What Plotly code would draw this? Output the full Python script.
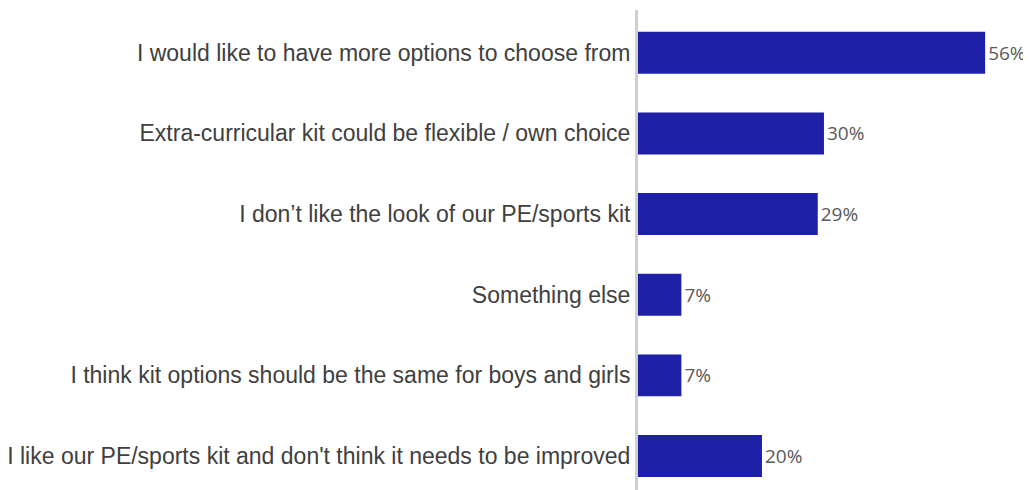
import plotly.graph_objects as go

categories = [
    "I would like to have more options to choose from",
    "Extra-curricular kit could be flexible / own choice",
    "I don\u2019t like the look of our PE/sports kit",
    "Something else",
    "I think kit options should be the same for boys and girls",
    "I like our PE/sports kit and don't think it needs to be improved",
]
values = [56, 30, 29, 7, 7, 20]
labels = [f"{v}%" for v in values]

fig = go.Figure(go.Bar(
    y=categories, x=values, orientation="h",
    marker=dict(color="#1f20a8", line=dict(width=0)),
    text=labels, textposition="outside", cliponaxis=False,
    textfont=dict(family="Open Sans", size=19, color="#595959"),
    hoverinfo="skip",
))

fig.update_layout(
    width=1023, height=490,
    margin=dict(l=630, r=0, t=2, b=0),
    paper_bgcolor="white", plot_bgcolor="white",
    bargap=0.48,
    showlegend=False,
    xaxis=dict(range=[0, 63.4], visible=False, fixedrange=True),
    yaxis=dict(
        categoryorder="array", categoryarray=categories,
        range=[5.52, -0.53],
        showline=True, linecolor="#d0d0d0", linewidth=3,
        ticks="", showgrid=False, zeroline=False,
        tickfont=dict(family="Liberation Sans", size=23, color="#404040"),
        ticklabelstandoff=0,
    ),
)

fig.write_html("out.html")
